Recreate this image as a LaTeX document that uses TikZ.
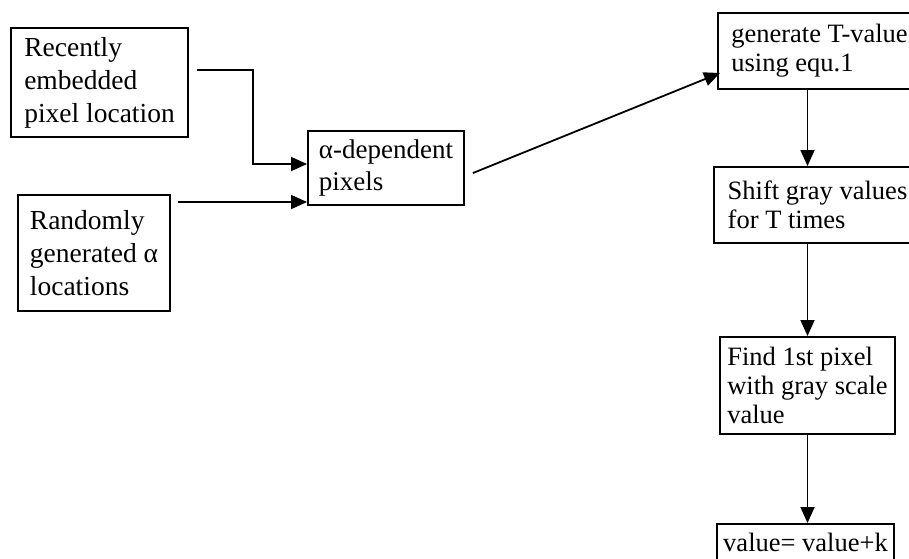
\documentclass[tikz,border=0pt]{standalone}
\usepackage{fontspec}
\setmainfont{Liberation Serif}
\usetikzlibrary{arrows.meta}

\begin{document}
\begin{tikzpicture}[
  x=1pt,y=-1pt,
  >={Triangle[length=16pt,width=14pt]},
  block/.style={draw,line width=2pt,anchor=north west,align=left,
    inner xsep=0pt,inner ysep=2pt,font=\fontsize{27.5}{33}\selectfont},
  rblock/.style={block,font=\fontsize{26.5}{29}\selectfont},
  flow/.style={->,line width=1.8pt}
]
  \useasboundingbox (0,0) rectangle (909,558);
  \clip (0,0) rectangle (909,558);

  % inputs on the left
  \node[block,minimum width=177pt,minimum height=109pt] (recent) at (10,27)
    {Recently\\embedded\\pixel location};
  \node[block,minimum width=152pt,minimum height=116pt] (random) at (17,194)
    {Randomly\\generated α\\locations};
  \node[block,minimum width=156pt,minimum height=74pt,
    font=\fontsize{27}{32}\selectfont] (alpha) at (307,130)
    {α-dependent\\pixels};

  % chain on the right
  \node[rblock,minimum width=203pt,minimum height=76pt] (tval) at (717,12)
    {generate T-value\\using equ.1};
  \node[rblock,minimum width=207pt,minimum height=76pt] (shift) at (713,166)
    {Shift gray values\\for T times};
  \node[rblock,minimum width=175pt,minimum height=97pt] (find) at (719,336)
    {Find 1st pixel\\with gray scale\\value};
  \node[rblock,minimum width=177pt,minimum height=37pt] (result) at (716,523)
    {value= value+k};

  \draw[flow] ([shift={(8,43)}]recent.north east) -| ([shift={(-54,34)}]alpha.north west)
    -- ([shift={(0,34)}]alpha.north west);
  \draw[flow] ([shift={(7,8)}]random.north east) coordinate (rs) -- (alpha.west |- rs);
  \draw[flow] ([shift={(8,43)}]alpha.north east) -- ([shift={(3,61)}]tval.north west);
  \draw[flow] (tval.south -| find.north) -- (shift.north -| find.north);
  \draw[flow] (shift.south -| find.north) -- (find.north);
  \draw[flow] (find.south) -- (result.north -| find.south);
\end{tikzpicture}
\end{document}
